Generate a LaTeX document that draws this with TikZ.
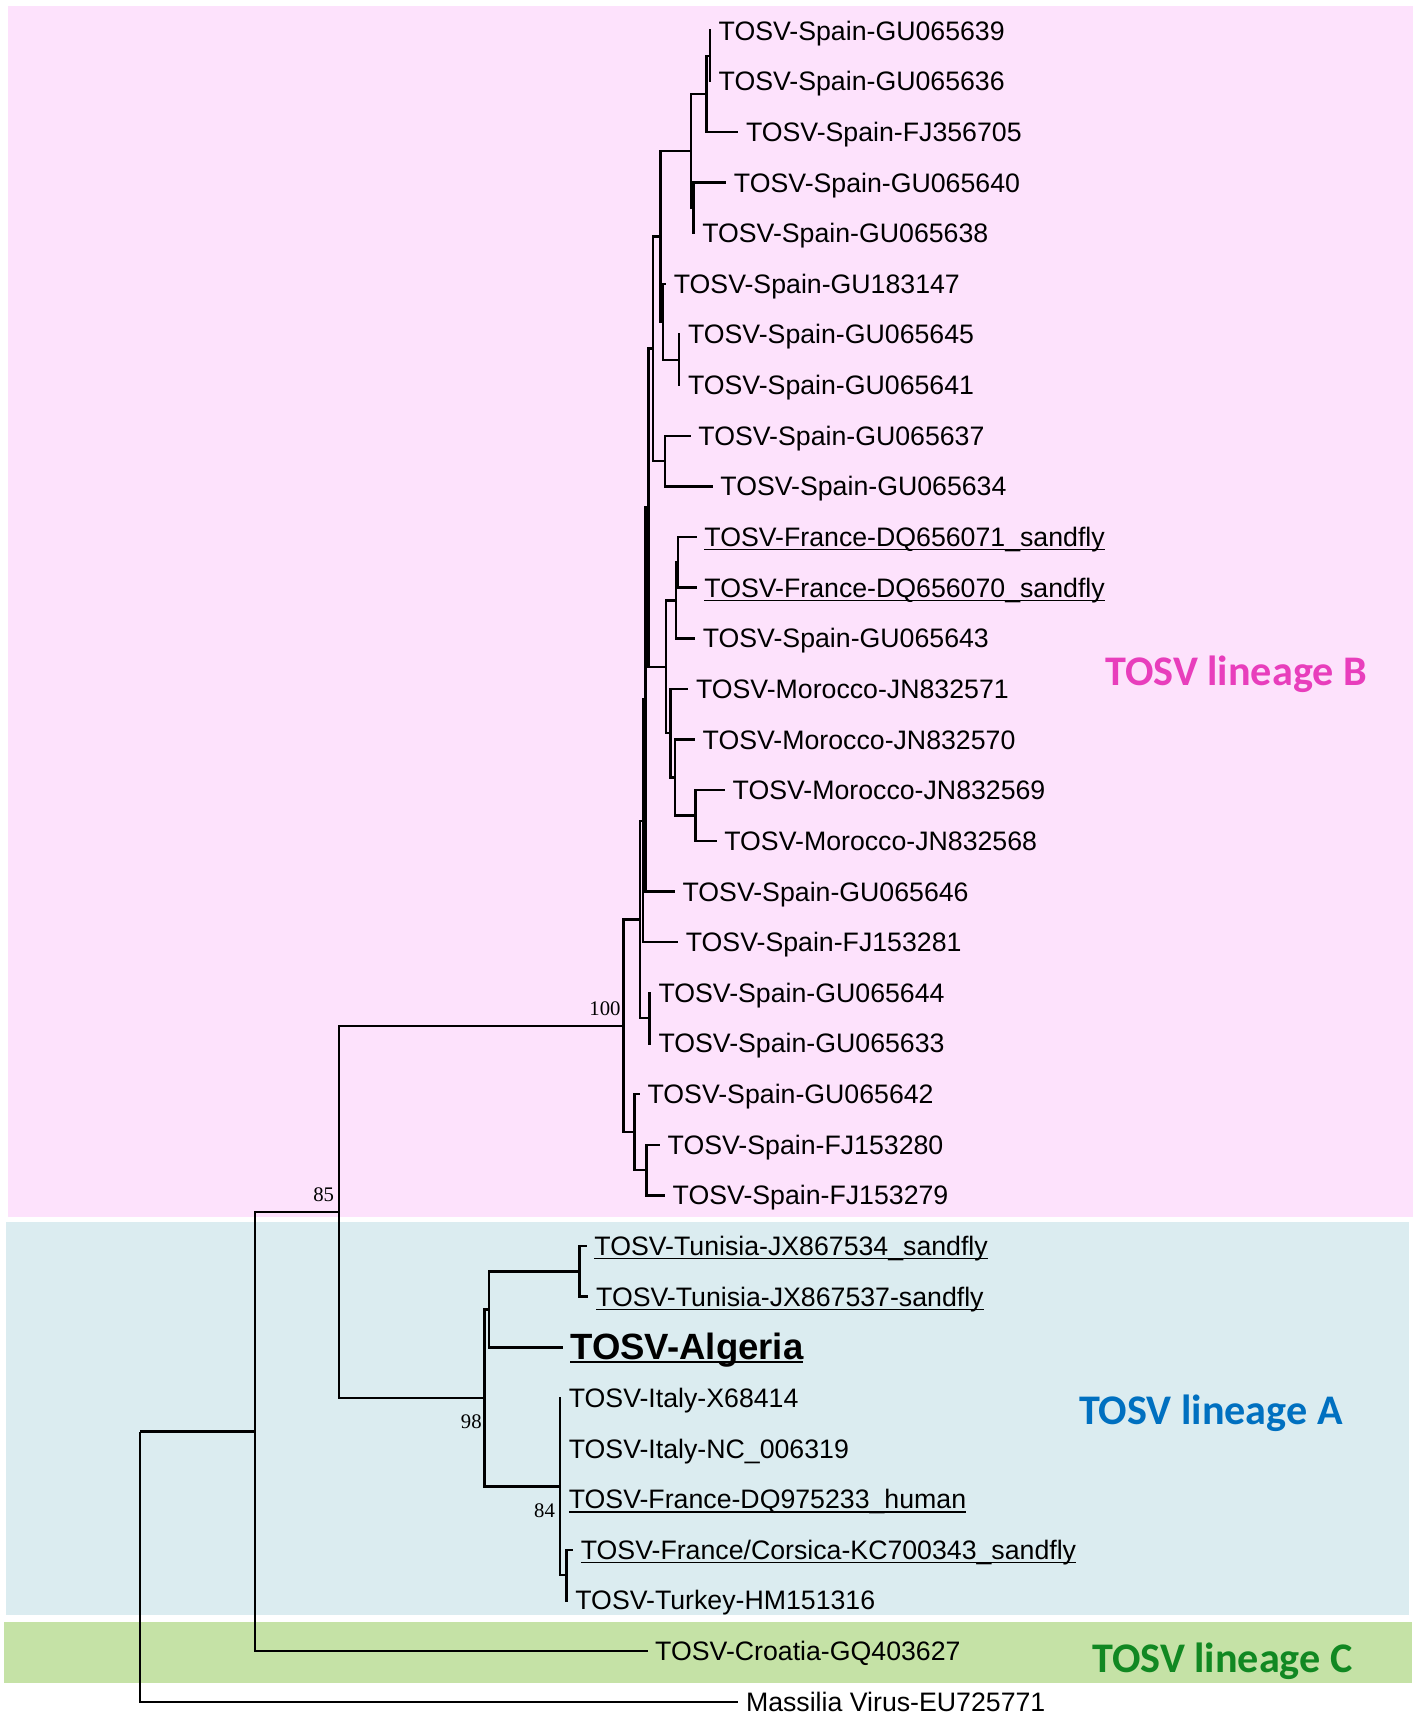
\documentclass[tikz,border=0pt]{standalone}
\usepackage{fontspec}
\setmainfont{Liberation Sans}
\newfontfamily\bootfont{Liberation Serif}
\newfontfamily\lineagefont{Carlito}
\usetikzlibrary{calc, positioning}

\newsavebox{\tosvbox}
\newcommand{\tosvunder}[2][0.4pt]{\sbox{\tosvbox}{#2}\rlap{\rule[-1.1pt]{\wd\tosvbox}{#1}}\usebox{\tosvbox}}

\tikzset{
  branch/.style={line width=0.7pt, black},
  leaf/.style={anchor=west, inner sep=2pt, font=\fontsize{7.6}{9}\selectfont, text height=6.5pt, text depth=1.1pt},
  bigleaf/.style={anchor=west, inner sep=2pt, font=\bfseries\fontsize{10.4}{12}\selectfont, text height=8.5pt, text depth=1.5pt},
  boot/.style={anchor=east, inner sep=0pt, font=\bootfont\fontsize{5.9}{6.5}\selectfont},
  lineage/.style={anchor=base west, inner sep=0pt, font=\lineagefont\bfseries\fontsize{12}{14}\selectfont}
}

\begin{document}
\begin{tikzpicture}[x=0.010938cm,y=-0.010938cm]
\definecolor{pinkbg}{RGB}{253,226,252}
\definecolor{bluebg}{RGB}{219,236,240}
\definecolor{greenbg}{RGB}{197,226,166}
\definecolor{lineageBpink}{RGB}{232,62,188}
\definecolor{lineageAblue}{RGB}{0,112,192}
\definecolor{lineageCgreen}{RGB}{17,136,34}
\useasboundingbox (0,0) rectangle (1300,1568);

\fill[pinkbg] (7.3,5.5) rectangle (1292,1112.6);
\fill[bluebg] (5.5,1117) rectangle (1288,1476.6);
\fill[greenbg] (4,1483) rectangle (1291,1539);

\node[leaf] (GU065639) at (650,28) {TOSV-Spain-GU065639};
\node[leaf] (GU065636) at (650,74.3) {TOSV-Spain-GU065636};
\node[leaf] (FJ356705) at (675,120.6) {TOSV-Spain-FJ356705};
\node[leaf] (GU065640) at (664,166.9) {TOSV-Spain-GU065640};
\node[leaf] (GU065638) at (635,213.2) {TOSV-Spain-GU065638};
\node[leaf] (GU183147) at (609,259.5) {TOSV-Spain-GU183147};
\node[leaf] (GU065645) at (622,305.8) {TOSV-Spain-GU065645};
\node[leaf] (GU065641) at (622,352.1) {TOSV-Spain-GU065641};
\node[leaf] (GU065637) at (631.5,398.4) {TOSV-Spain-GU065637};
\node[leaf] (GU065634) at (651.6,444.7) {TOSV-Spain-GU065634};
\node[leaf] (DQ656071) at (637,491) {\tosvunder{TOSV-France-DQ656071\_sandfly}};
\node[leaf] (DQ656070) at (637,537.3) {\tosvunder{TOSV-France-DQ656070\_sandfly}};
\node[leaf] (GU065643) at (635.5,583.6) {TOSV-Spain-GU065643};
\node[leaf] (JN832571) at (629.3,629.9) {TOSV-Morocco-JN832571};
\node[leaf] (JN832570) at (635.4,676.2) {TOSV-Morocco-JN832570};
\node[leaf] (JN832569) at (662.8,722.5) {TOSV-Morocco-JN832569};
\node[leaf] (JN832568) at (655.2,768.8) {TOSV-Morocco-JN832568};
\node[leaf] (GU065646) at (617,815.1) {TOSV-Spain-GU065646};
\node[leaf] (FJ153281) at (620,861.4) {TOSV-Spain-FJ153281};
\node[leaf] (GU065644) at (595,907.7) {TOSV-Spain-GU065644};
\node[leaf] (GU065633) at (595,954) {TOSV-Spain-GU065633};
\node[leaf] (GU065642) at (585,1000.3) {TOSV-Spain-GU065642};
\node[leaf] (FJ153280) at (603.4,1046.6) {TOSV-Spain-FJ153280};
\node[leaf] (FJ153279) at (608,1092.9) {TOSV-Spain-FJ153279};
\node[leaf] (JX867534) at (536.4,1139.2) {\tosvunder{TOSV-Tunisia-JX867534\_sandfly}};
\node[leaf] (JX867537) at (538,1185.5) {\tosvunder{TOSV-Tunisia-JX867537-sandfly}};
\node[bigleaf] (Algeria) at (514.5,1231.8) {\tosvunder[0.65pt]{TOSV-Algeria}};
\node[leaf] (X68414) at (513,1278.1) {TOSV-Italy-X68414};
\node[leaf] (NC006319) at (513,1324.4) {TOSV-Italy-NC\_006319};
\node[leaf] (DQ975233) at (513,1370.7) {\tosvunder{TOSV-France-DQ975233\_human}};
\node[leaf] (KC700343) at (524,1417) {\tosvunder{TOSV-France/Corsica-KC700343\_sandfly}};
\node[leaf] (HM151316) at (519,1463.3) {TOSV-Turkey-HM151316};
\node[leaf] (GQ403627) at (592,1509.6) {TOSV-Croatia-GQ403627};
\node[leaf] (EU725771) at (675,1555.9) {Massilia Virus-EU725771};

\coordinate (A12) at (649,51.15);
\coordinate (A123) at (646,85.9);
\coordinate (A45) at (634,190.05);
\coordinate (A15) at (632,137.98);
\coordinate (B78) at (621,328.95);
\coordinate (B68) at (606,294.2);
\coordinate (C18) at (604,216.1);
\coordinate (E910) at (608,421.55);
\coordinate (D110) at (597,318.8);
\coordinate (G1112) at (620,514.15);
\coordinate (G1113) at (618,548.9);
\coordinate (H1617) at (636,745.65);
\coordinate (I1517) at (617,710.9);
\coordinate (J1417) at (613,670.4);
\coordinate (K1117) at (609,609.6);
\coordinate (F117) at (593,464.2);
\coordinate (R118) at (590,639.7);
\coordinate (Q119) at (588,750.5);
\coordinate (M2021) at (594,930.85);
\coordinate (P121) at (585,840.7);
\coordinate (O2324) at (591,1069.75);
\coordinate (N2224) at (580,1035);
\coordinate (LinB) at (570,937.9);
\coordinate (Tun) at (530,1162.35);
\coordinate (TunAlg) at (447,1197.1);
\coordinate (CorTur) at (518,1440.15);
\coordinate (ItaFra) at (512,1359.1);
\coordinate (LinA) at (443,1278.1);
\coordinate (LinAB) at (310,1108);
\coordinate (TOSV) at (233,1308.8);
\coordinate (Root) at (128,1308.8);

\draw[branch] (A12) |- (GU065639.west) (A12) |- (GU065636.west);
\draw[branch] (A123) |- (A12) (A123) |- (FJ356705.west);
\draw[branch] (A45) |- (GU065640.west) (A45) |- (GU065638.west);
\draw[branch] (A15) |- (A123) (A15) |- (A45);
\draw[branch] (B78) |- (GU065645.west) (B78) |- (GU065641.west);
\draw[branch] (B68) |- (GU183147.west) (B68) |- (B78);
\draw[branch] (C18) |- (A15) (C18) |- (B68);
\draw[branch] (E910) |- (GU065637.west) (E910) |- (GU065634.west);
\draw[branch] (D110) |- (C18) (D110) |- (E910);
\draw[branch] (G1112) |- (DQ656071.west) (G1112) |- (DQ656070.west);
\draw[branch] (G1113) |- (G1112) (G1113) |- (GU065643.west);
\draw[branch] (H1617) |- (JN832569.west) (H1617) |- (JN832568.west);
\draw[branch] (I1517) |- (JN832570.west) (I1517) |- (H1617);
\draw[branch] (J1417) |- (JN832571.west) (J1417) |- (I1517);
\draw[branch] (K1117) |- (G1113) (K1117) |- (J1417);
\draw[branch] (F117) |- (D110) (F117) |- (K1117);
\draw[branch] (R118) |- (F117) (R118) |- (GU065646.west);
\draw[branch] (Q119) |- (R118) (Q119) |- (FJ153281.west);
\draw[branch] (M2021) |- (GU065644.west) (M2021) |- (GU065633.west);
\draw[branch] (P121) |- (Q119) (P121) |- (M2021);
\draw[branch] (O2324) |- (FJ153280.west) (O2324) |- (FJ153279.west);
\draw[branch] (N2224) |- (GU065642.west) (N2224) |- (O2324);
\draw[branch] (LinB) |- (P121) (LinB) |- (N2224);
\draw[branch] (Tun) |- (JX867534.west) (Tun) |- (JX867537.west);
\draw[branch] (TunAlg) |- (Tun) (TunAlg) |- (Algeria.west);
\draw[branch] (CorTur) |- (KC700343.west) (CorTur) |- (HM151316.west);
\draw[branch] (ItaFra) |- (X68414.west) (ItaFra) |- (NC006319.west) (ItaFra) |- (DQ975233.west) (ItaFra) |- (CorTur);
\draw[branch] (LinA) |- (TunAlg) (LinA) |- (ItaFra);
\draw[branch] (LinAB) |- (LinB) (LinAB) |- (LinA);
\draw[branch] (TOSV) |- (LinAB) (TOSV) |- (GQ403627.west);
\draw[branch] (Root) -- (TOSV) (Root) |- (EU725771.west);

\node[boot] (bs100) at ($(LinB)+(-2,-16)$) {100};
\node[boot] (bs85) at ($(LinAB)+(-4,-16)$) {85};
\node[boot] (bs98) at ($(LinA)+(-2,22)$) {98};
\node[boot] (bs84) at ($(ItaFra)+(-4,22)$) {84};

\node[lineage,text=lineageBpink] (lineageB) at (1010,626.3) {TOSV lineage B};
\node[lineage,text=lineageAblue] (lineageA) at (986,1302) {TOSV lineage A};
\node[lineage,text=lineageCgreen] (lineageC) at (998,1529.5) {TOSV lineage C};
\end{tikzpicture}
\end{document}
